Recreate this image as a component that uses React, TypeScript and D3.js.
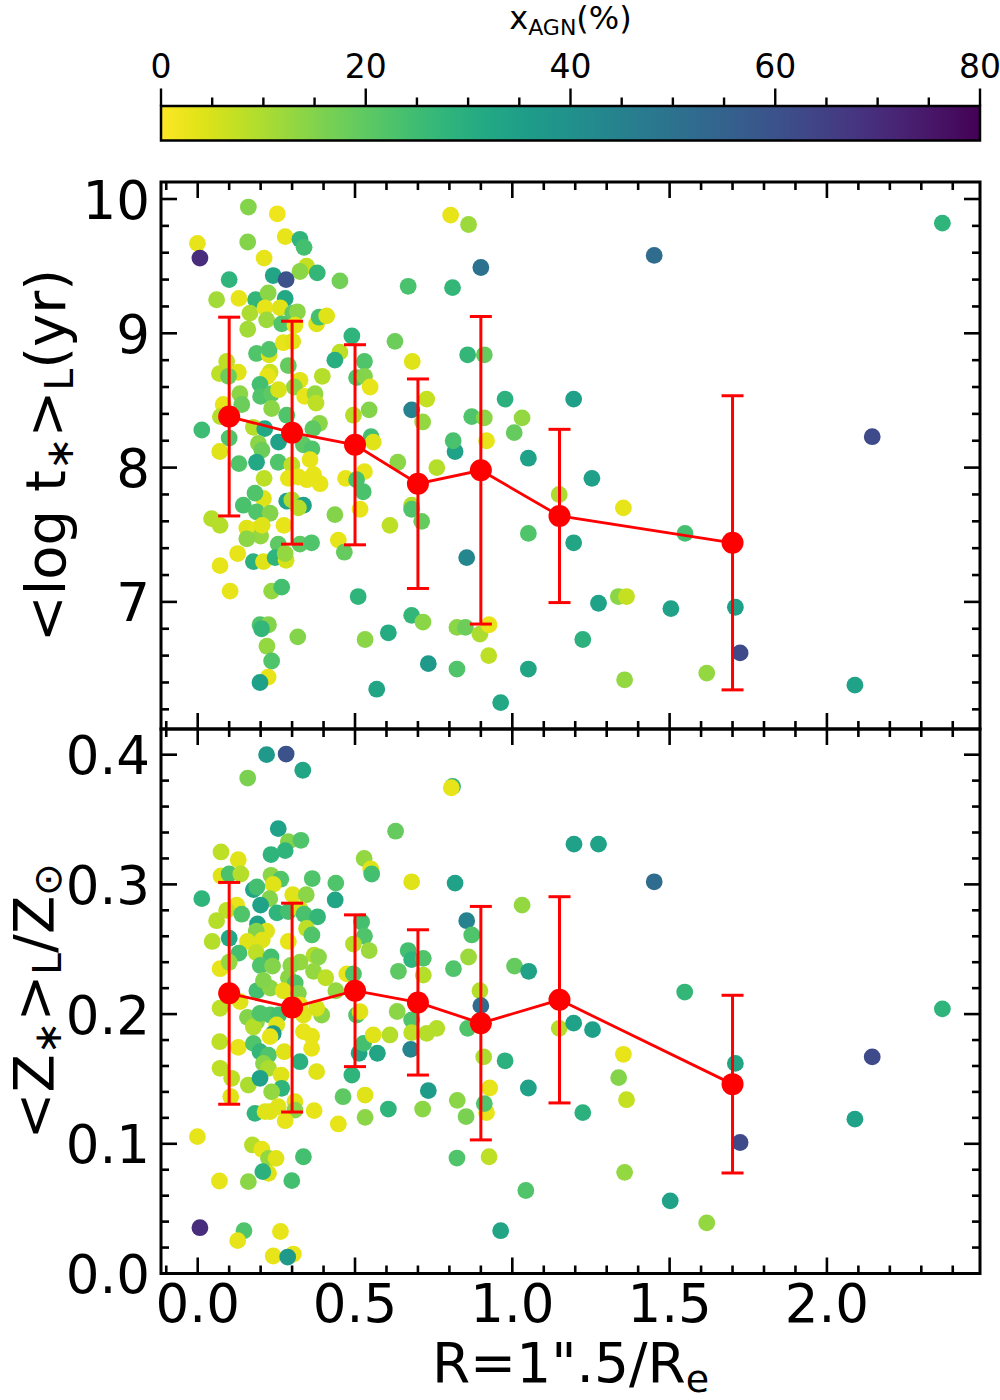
import React from 'react';
import * as d3 from 'd3';

// binned means (red) and their 1-sigma spread
const binR = [0.1, 0.3, 0.5, 0.7, 0.9, 1.15, 1.7];
const binAge = [8.38, 8.26, 8.17, 7.88, 7.98, 7.64, 7.44];
const binAgeErr = [0.74, 0.83, 0.745, 0.78, 1.145, 0.645, 1.095];
const binZ = [0.216, 0.205, 0.218, 0.209, 0.193, 0.211, 0.146];
const binZErr = [0.0855, 0.0805, 0.0585, 0.056, 0.09, 0.0795, 0.0685];

// [R/Re, <log t*>_L, x_AGN %]
const agePoints: [number, number, number][] = [
  [0.161, 9.94, 15], [0.253, 9.89, 2], [0.278, 9.72, 3], [0.325, 9.70, 28], [0.338, 9.64, 24],
  [-0.001, 9.67, 3], [0.007, 9.56, 70], [0.159, 9.68, 15], [0.211, 9.56, 3], [0.346, 9.50, 7],
  [0.325, 9.46, 14], [0.240, 9.43, 33], [0.281, 9.40, 60], [0.380, 9.45, 27], [0.452, 9.39, 17],
  [0.100, 9.40, 28], [0.669, 9.35, 23], [0.060, 9.25, 11], [0.131, 9.26, 3], [0.184, 9.25, 27],
  [0.224, 9.30, 14], [0.278, 9.26, 32], [0.166, 9.15, 10], [0.214, 9.19, 3], [0.262, 9.19, 4],
  [0.219, 9.10, 12], [0.302, 9.15, 20], [0.317, 9.16, 14], [0.267, 9.07, 22], [0.309, 9.06, 3],
  [0.378, 9.07, 4], [0.386, 9.12, 24], [0.410, 9.13, 4], [0.159, 9.03, 11], [0.490, 8.98, 28],
  [0.627, 8.94, 18], [0.187, 8.85, 22], [0.227, 8.84, 5], [0.227, 8.88, 22], [0.272, 8.93, 3],
  [0.302, 8.94, 4], [0.452, 8.86, 8], [0.436, 8.80, 30], [0.530, 8.79, 22], [0.682, 8.79, 4],
  [0.092, 8.79, 8], [0.069, 8.70, 8], [0.129, 8.71, 4], [0.098, 8.68, 18], [0.288, 8.76, 19],
  [0.230, 8.71, 6], [0.222, 8.68, 3], [0.396, 8.68, 9], [0.505, 8.67, 22], [0.530, 8.68, 15],
  [0.325, 8.65, 4], [0.307, 8.60, 14], [0.548, 8.60, 3], [0.198, 8.62, 24], [0.200, 8.53, 22],
  [0.235, 8.55, 20], [0.257, 8.58, 5], [0.134, 8.55, 14], [0.140, 8.47, 18], [0.081, 8.47, 3],
  [0.072, 8.38, 9], [0.235, 8.44, 14], [0.340, 8.53, 3], [0.373, 8.55, 13], [0.376, 8.48, 8],
  [0.283, 8.39, 22], [0.495, 8.39, 9], [0.545, 8.43, 15], [0.680, 8.43, 45], [0.728, 8.51, 7],
  [0.715, 8.34, 13], [0.013, 8.28, 25], [0.100, 8.22, 22], [0.177, 8.30, 9], [0.213, 8.29, 32],
  [0.257, 8.19, 34], [0.387, 8.33, 14], [0.366, 8.29, 20], [0.336, 8.17, 20], [0.363, 8.14, 22],
  [0.551, 8.23, 24], [0.558, 8.19, 4], [0.070, 8.12, 4], [0.193, 8.18, 14], [0.204, 8.13, 18],
  [0.636, 8.04, 14], [0.131, 8.03, 22], [0.187, 8.04, 32], [0.256, 8.04, 22], [0.299, 8.02, 8],
  [0.357, 8.06, 3], [0.368, 7.95, 3], [0.389, 7.88, 3], [0.347, 7.91, 3], [0.320, 7.93, 3],
  [0.288, 7.92, 3], [0.211, 7.92, 8], [0.209, 7.77, 4], [0.182, 7.81, 22], [0.145, 7.72, 23],
  [0.187, 7.67, 22], [0.230, 7.66, 15], [0.283, 7.75, 34], [0.299, 7.76, 10], [0.336, 7.72, 34],
  [0.320, 7.70, 9], [0.044, 7.62, 9], [0.071, 7.57, 9], [0.156, 7.55, 4], [0.187, 7.54, 3],
  [0.200, 7.49, 13], [0.156, 7.47, 14], [0.205, 7.57, 4], [0.274, 7.57, 3], [0.256, 7.43, 20],
  [0.325, 7.43, 20], [0.362, 7.44, 22], [0.127, 7.36, 3], [0.177, 7.30, 29], [0.209, 7.30, 4],
  [0.246, 7.33, 28], [0.281, 7.31, 5], [0.278, 7.36, 13], [0.071, 7.27, 3], [0.103, 7.08, 3],
  [0.235, 7.08, 13], [0.267, 7.11, 24], [0.436, 7.65, 15], [0.447, 7.46, 3], [0.466, 7.37, 19],
  [0.470, 7.92, 3], [0.530, 7.97, 3], [0.505, 7.91, 23], [0.526, 7.82, 23], [0.516, 7.69, 3],
  [0.760, 8.00, 9], [0.680, 7.72, 9], [0.680, 7.69, 22], [0.712, 7.60, 19], [0.611, 7.57, 8],
  [0.510, 7.04, 28], [0.680, 6.90, 27], [0.716, 6.85, 14], [0.606, 6.77, 31], [0.532, 6.72, 14],
  [0.318, 6.74, 15], [0.198, 6.83, 22], [0.225, 6.83, 15], [0.203, 6.80, 27], [0.220, 6.67, 13],
  [0.235, 6.56, 22], [0.224, 6.44, 3], [0.198, 6.40, 35], [0.569, 6.35, 33], [0.733, 6.54, 37],
  [0.804, 9.88, 3], [0.861, 9.81, 12], [0.900, 9.49, 50], [0.810, 9.34, 27], [1.451, 9.58, 52],
  [2.367, 9.82, 28], [0.858, 8.84, 27], [0.911, 8.84, 19], [0.977, 8.51, 29], [1.195, 8.51, 35],
  [0.871, 8.38, 22], [0.911, 8.37, 14], [1.031, 8.37, 13], [1.006, 8.26, 19], [0.818, 8.12, 34],
  [0.812, 8.20, 23], [0.918, 8.20, 3], [1.051, 8.07, 34], [1.253, 7.92, 35], [1.149, 7.80, 10],
  [1.353, 7.70, 3], [1.051, 7.51, 22], [1.195, 7.44, 33], [1.549, 7.51, 24], [0.855, 7.33, 43],
  [1.274, 6.99, 34], [1.337, 7.04, 14], [1.363, 7.04, 7], [1.504, 6.95, 34], [1.709, 6.96, 35],
  [0.824, 6.81, 14], [0.851, 6.81, 18], [0.897, 6.76, 10], [0.926, 6.83, 3], [1.224, 6.72, 29],
  [0.925, 6.60, 8], [0.824, 6.50, 22], [1.051, 6.50, 33], [0.963, 6.25, 32], [1.357, 6.42, 13],
  [1.618, 6.47, 13], [1.724, 6.62, 62], [2.089, 6.38, 34], [2.144, 8.23, 62],
];

// [R/Re, <Z*>_L/Zsun, x_AGN %]
const metalPoints: [number, number, number][] = [
  [0.219, 0.400, 37], [0.281, 0.4005, 60], [0.334, 0.388, 33], [0.159, 0.382, 16], [0.256, 0.343, 34],
  [0.629, 0.341, 19], [0.288, 0.333, 15], [0.328, 0.334, 22], [0.278, 0.326, 28], [0.233, 0.323, 28],
  [0.074, 0.325, 8], [0.129, 0.319, 4], [0.529, 0.320, 13], [0.550, 0.312, 4], [0.553, 0.308, 24],
  [0.680, 0.302, 4], [0.074, 0.3065, 4], [0.100, 0.308, 23], [0.137, 0.308, 9], [0.233, 0.307, 14],
  [0.264, 0.304, 22], [0.240, 0.300, 4], [0.364, 0.3045, 22], [0.439, 0.301, 22], [0.013, 0.289, 28],
  [0.177, 0.296, 33], [0.188, 0.298, 24], [0.229, 0.289, 15], [0.302, 0.292, 4], [0.345, 0.292, 14],
  [0.437, 0.288, 33], [0.200, 0.284, 34], [0.124, 0.284, 3], [0.092, 0.280, 8], [0.140, 0.277, 22],
  [0.252, 0.278, 28], [0.288, 0.279, 24], [0.325, 0.281, 6], [0.338, 0.277, 23], [0.381, 0.275, 27],
  [0.060, 0.272, 9], [0.190, 0.2695, 34], [0.219, 0.264, 4], [0.186, 0.264, 15], [0.346, 0.266, 8],
  [0.363, 0.261, 22], [0.521, 0.271, 24], [0.530, 0.260, 22], [0.100, 0.2585, 32], [0.046, 0.256, 9],
  [0.158, 0.256, 4], [0.205, 0.257, 4], [0.288, 0.256, 3], [0.495, 0.254, 9], [0.545, 0.249, 12],
  [0.131, 0.247, 24], [0.186, 0.2475, 8], [0.233, 0.244, 24], [0.370, 0.2455, 9], [0.384, 0.244, 14],
  [0.669, 0.249, 24], [0.680, 0.242, 28], [0.717, 0.243, 22], [0.071, 0.235, 3], [0.100, 0.240, 13],
  [0.199, 0.2375, 22], [0.238, 0.237, 15], [0.325, 0.240, 13], [0.296, 0.2375, 14], [0.368, 0.233, 13],
  [0.407, 0.228, 8], [0.474, 0.231, 3], [0.495, 0.231, 22], [0.638, 0.233, 20], [0.717, 0.230, 9],
  [0.288, 0.228, 14], [0.310, 0.224, 22], [0.188, 0.218, 24], [0.231, 0.220, 14], [0.272, 0.218, 4],
  [0.439, 0.218, 13], [0.320, 0.216, 15], [0.209, 0.226, 15],
  [0.071, 0.2045, 8], [0.135, 0.2096, 4], [0.158, 0.1975, 15], [0.187, 0.194, 14], [0.177, 0.190, 9],
  [0.198, 0.2006, 22], [0.230, 0.1993, 22], [0.257, 0.1993, 24], [0.251, 0.1916, 4], [0.240, 0.185, 36],
  [0.230, 0.1826, 3], [0.325, 0.207, 4], [0.336, 0.1993, 4], [0.394, 0.1993, 14], [0.378, 0.2045, 5],
  [0.336, 0.1865, 3], [0.362, 0.183, 3], [0.362, 0.1736, 3], [0.070, 0.1787, 8], [0.129, 0.1743, 3],
  [0.177, 0.1774, 22], [0.198, 0.171, 27], [0.225, 0.1684, 22], [0.275, 0.171, 4], [0.325, 0.1633, 29],
  [0.209, 0.162, 14], [0.225, 0.1582, 10], [0.071, 0.1582, 8], [0.108, 0.1505, 8], [0.161, 0.1453, 10],
  [0.198, 0.1505, 34], [0.265, 0.153, 4], [0.267, 0.1428, 28], [0.235, 0.140, 13], [0.378, 0.1556, 4],
  [0.105, 0.1363, 4], [0.182, 0.1235, 28], [0.214, 0.1248, 4], [0.230, 0.1248, 4], [0.256, 0.1286, 4],
  [0.309, 0.1325, 4], [0.309, 0.126, 14], [0.278, 0.1178, 3], [0.370, 0.1256, 3], [0.447, 0.1153, 3],
  [0.462, 0.1363, 20], [0.490, 0.153, 28], [0.513, 0.1698, 33], [0.527, 0.1774, 24], [0.505, 0.1993, 22],
  [0.516, 0.2019, 4], [0.558, 0.1839, 4], [0.571, 0.1698, 33], [0.532, 0.1376, 4], [0.532, 0.1204, 14],
  [0.606, 0.1268, 28], [0.611, 0.1839, 9], [0.634, 0.202, 14], [0.680, 0.1955, 22], [0.680, 0.1857, 8],
  [0.728, 0.1852, 9], [0.760, 0.189, 9], [0.677, 0.1728, 44], [0.733, 0.141, 36], [0.715, 0.1268, 14],
  [-0.001, 0.1055, 3], [0.174, 0.0991, 9], [0.204, 0.0958, 3], [0.225, 0.0888, 13], [0.249, 0.0888, 4],
  [0.336, 0.090, 24], [0.225, 0.0772, 4], [0.207, 0.0785, 29], [0.069, 0.0713, 3], [0.161, 0.0708, 14],
  [0.299, 0.0716, 24], [0.007, 0.0353, 70], [0.147, 0.033, 22], [0.127, 0.0253, 3], [0.263, 0.0324, 3],
  [0.240, 0.0135, 3], [0.304, 0.015, 3], [0.286, 0.0127, 37],
  [0.810, 0.3755, 28], [0.806, 0.3745, 3], [1.196, 0.331, 34], [1.274, 0.331, 34], [1.451, 0.302, 52],
  [0.818, 0.301, 34], [1.031, 0.284, 13], [0.855, 0.272, 45], [0.871, 0.261, 22], [0.861, 0.244, 12],
  [0.813, 0.235, 22], [1.007, 0.237, 19], [1.052, 0.233, 34], [1.548, 0.217, 27], [0.897, 0.218, 9],
  [0.900, 0.2065, 52], [2.367, 0.204, 28], [0.858, 0.189, 22], [1.149, 0.189, 9], [1.195, 0.193, 34],
  [1.255, 0.188, 35], [0.909, 0.167, 10], [0.977, 0.164, 29], [1.353, 0.169, 3], [1.709, 0.162, 33],
  [2.144, 0.167, 62], [0.928, 0.143, 3], [1.051, 0.143, 34], [1.338, 0.151, 15], [1.363, 0.134, 7],
  [0.825, 0.1335, 14], [0.918, 0.124, 3], [0.911, 0.131, 22], [0.853, 0.121, 16], [1.224, 0.124, 29],
  [2.089, 0.119, 34], [1.724, 0.101, 62], [0.824, 0.089, 22], [0.926, 0.090, 8], [1.357, 0.078, 13],
  [1.043, 0.064, 22], [1.502, 0.056, 34], [1.618, 0.039, 13], [0.963, 0.033, 33],
];

const xTicks = [0, 0.5, 1, 1.5, 2];
const xMinor = d3.range(-1, 25).map(i => i / 10);
const ageTicks = [7, 8, 9, 10];
const ageMinor = d3.range(31, 51).map(i => i / 5);
const metalTicks = [0, 0.1, 0.2, 0.3, 0.4];
const metalMinor = d3.range(0, 22).map(i => i / 50);
const cbarTicks = [0, 20, 40, 60, 80];
const cbarMinor = d3.range(0, 17).map(i => i * 5);

const FONT = '"DejaVu Sans", Verdana, sans-serif';
const LEFT = 161;
const RIGHT = 980;
const MAJOR = 16;
const MINOR = 8;

const x = d3.scaleLinear().domain([-0.1167, 2.4866]).range([LEFT, RIGHT]);
const color = (v: number) => d3.interpolateViridis(1 - v / 80);

interface PanelProps {
  y: d3.ScaleLinear<number, number>;
  points: [number, number, number][];
  mean: number[];
  err: number[];
  ticks: number[];
  minor: number[];
  fmt: (n: number) => string;
  showX: boolean;
}

const Panel: React.FC<PanelProps> = ({ y, points, mean, err, ticks, minor, fmt, showX }) => {
  const [y1, y0] = y.range();
  const [lo, hi] = y.domain();
  const line = d3.line<number>().x((_, i) => x(binR[i])).y(d => y(d));
  const yMin = minor.filter(v => v >= lo && v <= hi);
  const xMin = xMinor.filter(v => x(v) > LEFT && x(v) < RIGHT);
  return (
    <g>
      {points.map((p, i) => (
        <circle key={i} cx={x(p[0])} cy={y(p[1])} r={8.4} fill={color(p[2])} />
      ))}
      <path d={line(mean) || ''} fill="none" stroke="red" strokeWidth={2.8} />
      {mean.map((m, i) => {
        const cx = x(binR[i]);
        const top = y(m + err[i]);
        const bot = y(m - err[i]);
        return (
          <g key={i} stroke="red" strokeWidth={3}>
            <line x1={cx} x2={cx} y1={top} y2={bot} />
            <line x1={cx - 11} x2={cx + 11} y1={top} y2={top} />
            <line x1={cx - 11} x2={cx + 11} y1={bot} y2={bot} />
          </g>
        );
      })}
      {mean.map((m, i) => (
        <circle key={i} cx={x(binR[i])} cy={y(m)} r={11} fill="red" />
      ))}
      <g stroke="black" strokeWidth={2.6}>
        {xMin.map(v => {
          const len = xTicks.some(t => Math.abs(t - v) < 1e-6) ? MAJOR : MINOR;
          return (
            <g key={v}>
              <line x1={x(v)} x2={x(v)} y1={y1} y2={y1 - len} />
              <line x1={x(v)} x2={x(v)} y1={y0} y2={y0 + len} />
            </g>
          );
        })}
        {yMin.map(v => {
          const len = ticks.some(t => Math.abs(t - v) < 1e-6) ? MAJOR : MINOR;
          return (
            <g key={v}>
              <line x1={LEFT} x2={LEFT + len} y1={y(v)} y2={y(v)} />
              <line x1={RIGHT} x2={RIGHT - len} y1={y(v)} y2={y(v)} />
            </g>
          );
        })}
      </g>
      <rect x={LEFT} y={y0} width={RIGHT - LEFT} height={y1 - y0} fill="none" stroke="black" strokeWidth={3} />
      {ticks.map(t => (
        <text key={t} x={150} y={y(t) + 19.5} fontSize={53} textAnchor="end" fontFamily={FONT}>
          {fmt(t)}
        </text>
      ))}
      {showX && xTicks.map(t => (
        <text key={t} x={x(t)} y={y1 + 48.5} fontSize={53} textAnchor="middle" fontFamily={FONT}>
          {d3.format('.1f')(t)}
        </text>
      ))}
    </g>
  );
};

const App: React.FC = () => {
  const yAge = d3.scaleLinear().domain([6.0536, 10.1266]).range([729, 182]);
  const yMetal = d3.scaleLinear().domain([0, 0.4198]).range([1273.5, 729]);
  const cb = d3.scaleLinear().domain([0, 80]).range([LEFT, RIGHT]);
  const stops = d3.range(0, 21).map(i => i / 20);
  const sub = { fontSize: 39 };

  return (
    <div style={{ position: 'absolute', left: 0, top: 0, width: 1000, height: 1400 }}>
      <svg width={1000} height={1400} style={{ display: 'block', background: 'white' }}>
        <defs>
          <linearGradient id="viridis-r" x1="0%" x2="100%" y1="0%" y2="0%">
            {stops.map(s => (
              <stop key={s} offset={`${s * 100}%`} stopColor={color(s * 80)} />
            ))}
          </linearGradient>
        </defs>

        {/* colorbar */}
        <rect x={LEFT} y={106} width={RIGHT - LEFT} height={34.5} fill="url(#viridis-r)" stroke="black" strokeWidth={2.5} />
        <g stroke="black" strokeWidth={2.4}>
          {cbarMinor.map(v => (
            <line key={v} x1={cb(v)} x2={cb(v)} y1={106} y2={106 - (v % 20 === 0 ? 17.5 : 8.5)} />
          ))}
        </g>
        {cbarTicks.map(t => (
          <text key={t} x={cb(t)} y={78} fontSize={33} textAnchor="middle" fontFamily={FONT}>{t}</text>
        ))}
        <text x={570.5} y={29} fontSize={32} textAnchor="middle" fontFamily={FONT}>
          <tspan>x</tspan>
          <tspan fontSize={22} dy={6}>AGN</tspan>
          <tspan dy={-6}>(%)</tspan>
        </text>

        <Panel y={yAge} points={agePoints} mean={binAge} err={binAgeErr}
          ticks={ageTicks} minor={ageMinor} fmt={d3.format('d')} showX={false} />
        <Panel y={yMetal} points={metalPoints} mean={binZ} err={binZErr}
          ticks={metalTicks} minor={metalMinor} fmt={d3.format('.1f')} showX={true} />

        {/* axis titles */}
        <text transform={`translate(65,${(182 + 729) / 2}) rotate(-90)`} fontSize={56} textAnchor="middle" fontFamily={FONT}>
          <tspan>&lt;log t</tspan>
          <tspan {...sub} dy={8}>∗</tspan>
          <tspan dy={-8}>&gt;</tspan>
          <tspan {...sub} dy={8}>L</tspan>
          <tspan dy={-8}>(yr)</tspan>
        </text>
        <text transform={`translate(53,${(729 + 1273.5) / 2}) rotate(-90)`} fontSize={56} textAnchor="middle" fontFamily={FONT}>
          <tspan>&lt;Z</tspan>
          <tspan {...sub} dy={8}>∗</tspan>
          <tspan dy={-8}>&gt;</tspan>
          <tspan {...sub} dy={8}>L</tspan>
          <tspan dy={-8}>/Z</tspan>
          <tspan {...sub} dy={8}>⊙</tspan>
        </text>
        <text x={570.5} y={1382} fontSize={55} textAnchor="middle" fontFamily={FONT}>
          <tspan>R=1".5/R</tspan>
          <tspan fontSize={38} dy={10}>e</tspan>
        </text>
      </svg>
    </div>
  );
};

export default App;
